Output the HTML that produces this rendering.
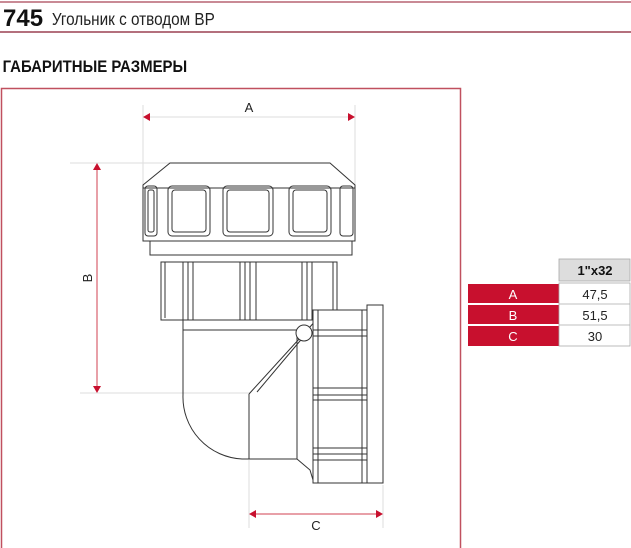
<!DOCTYPE html>
<html><head><meta charset="utf-8">
<style>
html,body{margin:0;padding:0;background:#fff;}
body{width:631px;height:548px;position:relative;overflow:hidden;font-family:"Liberation Sans",sans-serif;}
</style></head><body>
<svg width="631" height="548" viewBox="0 0 631 548" xmlns="http://www.w3.org/2000/svg" style="position:absolute;left:0;top:0">
<line x1="0" y1="2" x2="631" y2="2" stroke="#c98a95" stroke-width="2"/>
<text x="3" y="26" font-family="Liberation Sans" font-weight="bold" font-size="24" fill="#111">745</text>
<text x="61" y="25" font-family="Liberation Sans" font-size="18" fill="#222" transform="scale(0.85,1)">Угольник с отводом ВР</text>
<line x1="0" y1="32" x2="631" y2="32" stroke="#b4707d" stroke-width="2"/>
<text x="3" y="72" font-family="Liberation Sans" font-weight="bold" font-size="17" fill="#111" transform="scale(0.88,1)">ГАБАРИТНЫЕ РАЗМЕРЫ</text>
<rect x="1.5" y="88.5" width="459" height="462" fill="none" stroke="#c0505f" stroke-width="1.5"/>

<g stroke="#ddd" stroke-width="1">
<line x1="143" y1="105" x2="143" y2="185"/>
<line x1="355" y1="105" x2="355" y2="185"/>
<line x1="150" y1="117" x2="350" y2="117"/>
<line x1="70" y1="163" x2="170" y2="163"/>
<line x1="80" y1="393" x2="250" y2="393"/>
<line x1="249" y1="460" x2="249" y2="528"/>
<line x1="383" y1="485" x2="383" y2="528"/>
</g>
<polygon points="143,117 150,113 150,121" fill="#c8102e"/>
<polygon points="355,117 348,113 348,121" fill="#c8102e"/>
<text x="249" y="112" font-size="13" text-anchor="middle" fill="#222">A</text>
<line x1="97" y1="168" x2="97" y2="388" stroke="#d04050" stroke-width="1"/>
<polygon points="97,163 93,170 101,170" fill="#c8102e"/>
<polygon points="97,393 93,386 101,386" fill="#c8102e"/>
<text x="0" y="0" font-size="13" text-anchor="middle" fill="#222" transform="translate(92,278) rotate(-90)">B</text>
<line x1="254" y1="514" x2="378" y2="514" stroke="#d04050" stroke-width="1"/>
<polygon points="249,514 256,510 256,518" fill="#c8102e"/>
<polygon points="383,514 376,510 376,518" fill="#c8102e"/>
<text x="316" y="530" font-size="13" text-anchor="middle" fill="#222">C</text>

<g fill="none" stroke="#333" stroke-width="1">
<path d="M170,163 L330,163 L355,185 L355,241 L143,241 L143,185 Z" fill="#fff"/>
<line x1="143" y1="188" x2="355" y2="188"/>
<rect x="145" y="186" width="12" height="50" rx="3"/>
<rect x="168" y="186" width="42" height="50" rx="4"/>
<rect x="223" y="186" width="50" height="50" rx="4"/>
<rect x="289" y="186" width="42" height="50" rx="4"/>
<rect x="340" y="186" width="13" height="50" rx="3"/>
<rect x="148" y="190" width="6" height="42" rx="2"/>
<rect x="172" y="190" width="34" height="42" rx="3"/>
<rect x="227" y="190" width="42" height="42" rx="3"/>
<rect x="293" y="190" width="34" height="42" rx="3"/>
<rect x="150" y="241" width="202" height="14"/>
<path d="M161,262 L337,262 L337,320 L161,320 Z" fill="#fff"/>
<line x1="165" y1="262" x2="165" y2="318"/>
<line x1="183" y1="262" x2="183" y2="320"/><line x1="188" y1="262" x2="188" y2="320"/><line x1="193" y1="262" x2="193" y2="320"/>
<line x1="240" y1="262" x2="240" y2="320"/><line x1="245" y1="262" x2="245" y2="320"/><line x1="250" y1="262" x2="250" y2="320"/><line x1="256" y1="262" x2="256" y2="320"/>
<line x1="302" y1="262" x2="302" y2="320"/><line x1="307" y1="262" x2="307" y2="320"/><line x1="312" y1="262" x2="312" y2="320"/>
<line x1="333" y1="262" x2="333" y2="318"/>
<path d="M183,320 L183,395 A62,62 0 0 0 242,459 L297,459"/>
<line x1="183" y1="330" x2="300" y2="330"/>
<path d="M249,394 L249,459"/>
<path d="M249,394 L300,338 L318,318"/>
<path d="M257,392 L305,335"/>
<line x1="297" y1="335" x2="297" y2="459"/>
<path d="M297,459 L310,470 L313,480"/>
<path d="M313,310 L313,483 L367,483 L367,310 Z" fill="#fff"/>
<rect x="367" y="305" width="16" height="178"/>
<line x1="318" y1="310" x2="318" y2="483"/>
<line x1="362" y1="310" x2="362" y2="483"/>
<line x1="313" y1="330" x2="367" y2="330"/><line x1="313" y1="336" x2="367" y2="336"/>
<line x1="313" y1="388" x2="367" y2="388"/><line x1="313" y1="395" x2="367" y2="395"/><line x1="313" y1="400" x2="367" y2="400"/>
<line x1="313" y1="448" x2="367" y2="448"/><line x1="313" y1="454" x2="367" y2="454"/><line x1="313" y1="460" x2="367" y2="460"/>
<circle cx="304" cy="333" r="8" fill="#fff"/>
</g>

<rect x="559" y="259" width="71" height="22" fill="#ddd" stroke="#aaa" stroke-width="0.8"/>
<text x="595" y="275" font-size="13" font-weight="bold" text-anchor="middle" fill="#111">1"x32</text>
<g font-size="13" text-anchor="middle">
<rect x="468" y="284" width="91" height="19" fill="#c8102e"/>
<rect x="468" y="305" width="91" height="19" fill="#c8102e"/>
<rect x="468" y="326" width="91" height="20" fill="#c8102e"/>
<text x="513" y="299" fill="#fff">A</text>
<text x="513" y="320" fill="#fff">B</text>
<text x="513" y="341" fill="#fff">C</text>
<rect x="559" y="283" width="71" height="63" fill="#fff" stroke="#aaa" stroke-width="0.8"/>
<line x1="559" y1="304" x2="630" y2="304" stroke="#aaa" stroke-width="0.8"/>
<line x1="559" y1="325" x2="630" y2="325" stroke="#aaa" stroke-width="0.8"/>
<text x="595" y="299" fill="#222">47,5</text>
<text x="595" y="320" fill="#222">51,5</text>
<text x="595" y="341" fill="#222">30</text>
</g>
</svg>
</body></html>
